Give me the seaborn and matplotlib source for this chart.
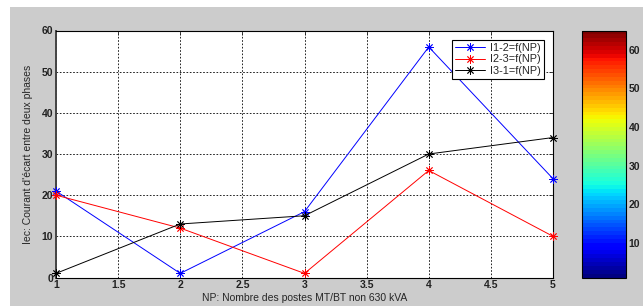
import numpy as np
import pandas as pd
import matplotlib
matplotlib.use("Agg")
import matplotlib.pyplot as plt
import seaborn as sns
from matplotlib.ticker import FuncFormatter
from matplotlib.patches import Rectangle
from matplotlib.lines import Line2D

np_values = [1, 2, 3, 4, 5]
i12 = [21, 1, 16, 56, 24]
i23 = [20, 12, 1, 26, 10]
i31 = [1, 13, 15, 30, 34]
series_labels = ["I1-2=f(NP)", "I2-3=f(NP)", "I3-1=f(NP)"]
series_colors = ["#0000ff", "#ff0000", "#000000"]
xticks = [1, 1.5, 2, 2.5, 3, 3.5, 4, 4.5, 5]
yticks = [0, 10, 20, 30, 40, 50, 60]
cbar_ticks = [10, 20, 30, 40, 50, 60]
cbar_min, cbar_max = 1, 65

sns.set_style("white")
plt.rcParams['font.family'] = ['Liberation Sans', 'DejaVu Sans']

fig = plt.figure(figsize=(6.43, 3.06), dpi=100, facecolor="white")
fig.patches.append(Rectangle((10/643, 0), 1 - 10/643, 1 - 7/306,
                             transform=fig.transFigure, facecolor="#cccccc",
                             edgecolor="none", zorder=-10))

ax = fig.add_axes([56/643, (306-277.5)/306, (553-56)/643, 247/306])
ax.set_facecolor("white")

star = (8, 2, 0)
for vals, lab, col in zip([i12, i23, i31], series_labels, series_colors):
    sns.lineplot(x=np_values, y=vals, color=col, marker=star, markersize=6,
                 markeredgewidth=0.6, markeredgecolor=col, markerfacecolor=col,
                 linewidth=0.7, ax=ax, label=lab, zorder=3, clip_on=False)

ax.set_xlim(1, 5)
ax.set_ylim(0, 60)
ax.set_xticks(xticks)
ax.set_yticks(yticks)
fmt = FuncFormatter(lambda v, p: "%g" % v)
ax.xaxis.set_major_formatter(fmt)
ax.yaxis.set_major_formatter(fmt)
ax.grid(True, color="black", linestyle=(0, (2, 2)), linewidth=0.6)
ax.tick_params(axis="both", labelsize=7.5, direction="in", length=3, width=0.6,
               top=True, right=True, pad=2)
for lab in ax.get_xticklabels() + ax.get_yticklabels():
    lab.set_fontweight("bold")
    lab.set_color("#222222")
for s in ax.spines.values():
    s.set_color("black")
    s.set_linewidth(0.8)
ax.spines["left"].set_color("#444444")
ax.spines["left"].set_linewidth(1.4)

ax.set_xlabel("NP: Nombre des postes MT/BT non 630 kVA", fontsize=7.5, labelpad=2)
ax.set_ylabel("Iec: Courant d'écart entre deux phases", fontsize=7.5, labelpad=6)

handles = [Line2D([0], [0], color=c, marker=star, markersize=6, markeredgewidth=0.6, linewidth=0.7)
           for c in series_colors]
leg = ax.legend(handles, series_labels, loc="upper right", fontsize=7.8, frameon=True,
                fancybox=False, edgecolor="black", framealpha=1, handlelength=2.7,
                borderpad=0.3, labelspacing=0.15, handletextpad=0.5,
                bbox_to_anchor=(0.993, 0.985))
leg.get_frame().set_linewidth(0.8)

cax = fig.add_axes([582/643, (306-277.5)/306, 44/643, 247/306])
sm = matplotlib.cm.ScalarMappable(norm=matplotlib.colors.Normalize(cbar_min, cbar_max),
                                  cmap=plt.get_cmap("jet", 64))
cb = fig.colorbar(sm, cax=cax, ticks=cbar_ticks)
cb.outline.set_linewidth(0.8)
cb.outline.set_edgecolor("black")
cax.tick_params(labelsize=7.5, direction="in", length=3, width=0.6, pad=2)
for lab in cax.get_yticklabels():
    lab.set_fontweight("bold")
    lab.set_color("#222222")

fig.savefig("out.png", dpi=100, facecolor="white")
